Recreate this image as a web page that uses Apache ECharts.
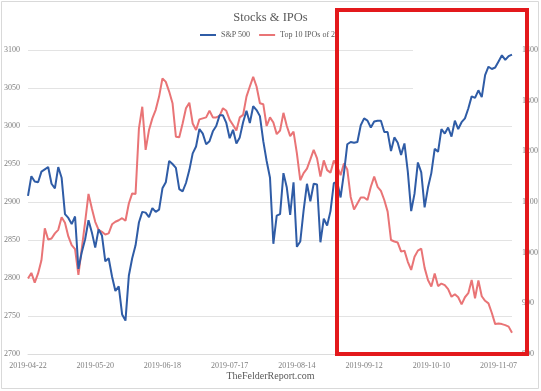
<!DOCTYPE html>
<html>
<head>
<meta charset="utf-8">
<script src="https://cdn.jsdelivr.net/npm/echarts@6/dist/echarts.min.js"></script>
<style>html,body{margin:0;padding:0;background:#fff}#c{width:541px;height:391px}</style>
</head>
<body>
<div id="c"></div>
<script>
// Trading days (month -> day numbers), 2019-04-22 .. 2019-11-13
const tradingDays = [
  ['04', [22,23,24,25,26,29,30]],
  ['05', [1,2,3,6,7,8,9,10,13,14,15,16,17,20,21,22,23,24,28,29,30,31]],
  ['06', [3,4,5,6,7,10,11,12,13,14,17,18,19,20,21,24,25,26,27,28]],
  ['07', [1,2,3,5,8,9,10,11,12,15,16,17,18,19,22,23,24,25,26,29,30,31]],
  ['08', [1,2,5,6,7,8,9,12,13,14,15,16,19,20,21,22,23,26,27,28,29,30]],
  ['09', [3,4,5,6,9,10,11,12,13,16,17,18,19,20,23,24,25,26,27,30]],
  ['10', [1,2,3,4,7,8,9,10,11,14,15,16,17,18,21,22,23,24,25,28,29,30,31]],
  ['11', [1,4,5,6,7,8,11,12,13]]
];
const dates = [];
tradingDays.forEach(([m, ds]) => ds.forEach(d => dates.push('2019-' + m + '-' + String(d).padStart(2, '0'))));

// S&P 500 (left axis)
const sp500 = [
  2908,2934,2927,2926,2940,2943,2946,2924,2918,2946,
  2932,2884,2879,2871,2881,2812,2834,2851,2876,2860,
  2840,2864,2856,2822,2826,2802,2783,2789,2752,2744,
  2803,2826,2843,2873,2887,2886,2880,2892,2887,2890,
  2918,2926,2954,2950,2945,2917,2914,2925,2942,2964,
  2973,2996,2990,2976,2980,2993,3000,3014,3014,3004,
  2984,2995,2977,2985,3005,3020,3004,3026,3021,3013,
  2980,2954,2932,2845,2882,2884,2938,2919,2883,2926,
  2841,2848,2889,2924,2901,2924,2923,2847,2878,2869,
  2888,2925,2926,2906,2938,2976,2979,2978,2979,3001,
  3010,3007,2998,3006,3007,3007,2992,2992,2967,2985,
  2978,2962,2977,2940,2888,2911,2952,2939,2893,2919,
  2938,2970,2966,2996,2990,2998,2986,3007,2996,3005,
  3010,3023,3039,3037,3047,3038,3067,3078,3075,3077,
  3085,3093,3087,3092,3094
];

// Top 10 IPOs of 2019 (right axis)
const ipos = [
  949,960,941,959,985,1048,1026,1028,1038,1045,
  1070,1059,1032,1015,1007,956,1008,1061,1116,1087,
  1061,1045,1041,1036,1038,1056,1061,1064,1068,1063,
  1097,1117,1116,1245,1288,1203,1242,1265,1282,1308,
  1344,1337,1318,1295,1229,1228,1255,1285,1296,1255,
  1242,1263,1265,1267,1280,1267,1267,1270,1285,1280,
  1262,1252,1241,1267,1272,1308,1328,1347,1328,1295,
  1293,1250,1267,1257,1234,1241,1276,1250,1230,1239,
  1196,1143,1157,1166,1184,1203,1186,1150,1182,1163,
  1158,1182,1170,1153,1176,1164,1110,1085,1097,1109,
  1109,1104,1130,1150,1130,1122,1104,1081,1025,1022,
  1020,1002,1004,982,966,992,1004,1008,970,946,
  933,959,934,939,936,928,913,918,912,898,
  912,920,946,910,945,914,905,900,881,859,
  860,859,857,854,842
];

const seriesNames = ['S&P 500', 'Top 10 IPOs of 2019'];
const leftTicks = { min: 2700, max: 3100, step: 50 };
const rightTicks = { min: 800, max: 1400, step: 100 };

const serif = "'Liberation Serif', 'DejaVu Serif', serif";
const labelColor = '#7f7f7f';
const plain = v => String(v);

const chart = echarts.init(document.getElementById('c'), null, { renderer: 'canvas' });
chart.setOption({
  animation: false,
  backgroundColor: '#ffffff',
  title: [
    { text: 'Stocks & IPOs', left: 'center', top: 6,
      textStyle: { fontFamily: serif, fontSize: 12.5, fontWeight: 'normal', color: '#595959' } },
    { text: 'TheFelderReport.com', left: 'center', bottom: 5,
      textStyle: { fontFamily: serif, fontSize: 10, fontWeight: 'normal', color: '#595959' } }
  ],
  legend: {
    top: 31, left: 200, padding: 0,
    itemWidth: 16, itemHeight: 2, itemGap: 9,
    icon: 'rect',
    data: seriesNames,
    textStyle: { fontFamily: serif, fontSize: 8, color: '#595959' }
  },
  grid: { left: 28, right: 28, top: 50, bottom: 37, containLabel: false },
  xAxis: {
    type: 'category', data: dates, boundaryGap: false,
    axisLine: { show: true, lineStyle: { color: '#dcdcdc' } },
    axisTick: { show: false },
    axisLabel: { interval: 19, fontFamily: serif, fontSize: 8, color: labelColor, margin: 8 },
    splitLine: { show: false }
  },
  yAxis: [
    { type: 'value', min: leftTicks.min, max: leftTicks.max, interval: leftTicks.step,
      axisLine: { show: false }, axisTick: { show: false },
      axisLabel: { formatter: plain, fontFamily: serif, fontSize: 8, color: labelColor, margin: 8 },
      splitLine: { lineStyle: { color: '#e3e3e3', width: 1 } } },
    { type: 'value', min: rightTicks.min, max: rightTicks.max, interval: rightTicks.step,
      axisLine: { show: false }, axisTick: { show: false },
      axisLabel: { formatter: plain, fontFamily: serif, fontSize: 8, color: labelColor, margin: 10 },
      splitLine: { show: false } }
  ],
  series: [
    { name: seriesNames[1], type: 'line', yAxisIndex: 1, data: ipos, symbol: 'none',
      lineStyle: { color: '#e97476', width: 2 }, itemStyle: { color: '#e97476' }, z: 2 },
    { name: seriesNames[0], type: 'line', yAxisIndex: 0, data: sp500, symbol: 'none',
      lineStyle: { color: '#2f5ca6', width: 2 }, itemStyle: { color: '#2f5ca6' }, z: 3 }
  ],
  graphic: [
    { type: 'rect', z: -1, silent: true,
      shape: { x: 1.5, y: 1.5, width: 537, height: 387 },
      style: { fill: 'none', stroke: '#d9d9d9', lineWidth: 1 } },
    { type: 'rect', z: 1, silent: true,
      shape: { x: 413, y: 44, width: 104, height: 50 },
      style: { fill: '#ffffff' } },
    { type: 'rect', z: 50, silent: true,
      shape: { x: 339, y: 27, width: 40, height: 16 },
      style: { fill: '#ffffff' } },
    { type: 'rect', z: 100, silent: true,
      shape: { x: 337, y: 10, width: 190, height: 344 },
      style: { fill: 'none', stroke: '#e3191c', lineWidth: 4 } }
  ]
});
</script>
</body>
</html>
